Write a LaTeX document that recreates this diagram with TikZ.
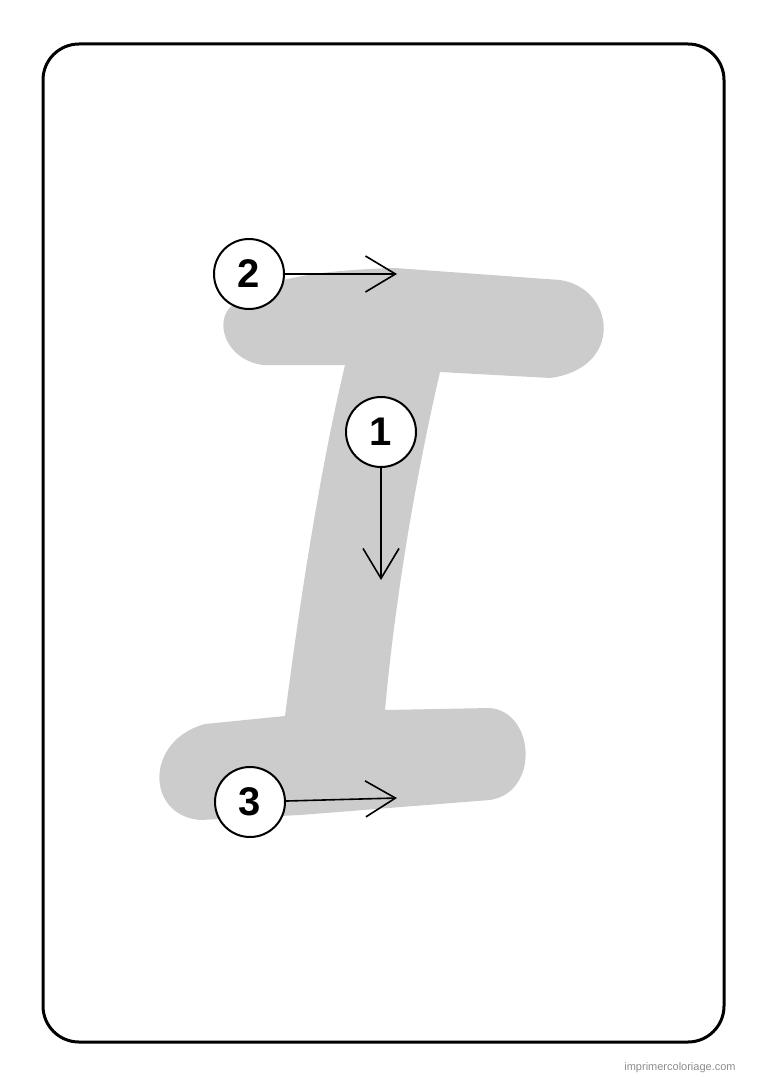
\documentclass[tikz,border=0pt]{standalone}
\usepackage{fontspec}
\setmainfont{Liberation Sans}
\usetikzlibrary{arrows.meta}
\begin{document}
\begin{tikzpicture}[x=1pt,y=-1pt,
  num/.style={circle,draw,line width=2,minimum size=70pt,inner sep=0pt,fill=white,font=\fontsize{40}{40}\selectfont\bfseries},
  arr/.style={line width=1.6,-{Straight Barb[length=30pt,width=36pt,line width=1.6]}}]
\useasboundingbox (0,0) rectangle (768,1086);
\draw[line width=3,rounded corners=36pt] (43,44) rectangle (724,1042);
\fill[black!20] (232,306) .. controls (260,276) and (330,270) .. (395,268)
  -- (560,280) .. controls (615,288) and (625,368) .. (550,378)
  -- (440,372) .. controls (415,480) and (395,600) .. (385,710)
  -- (490,708) .. controls (535,712) and (540,792) .. (490,800)
  -- (300,815) -- (200,820) .. controls (145,815) and (145,740) .. (205,724)
  -- (285,716) .. controls (300,600) and (320,470) .. (345,365) -- (262,365)
  .. controls (222,358) and (215,318) .. (232,306) -- cycle;
\node[num] (n2) at (249,274) {2};
\node[num] (n1) at (381,432) {1};
\node[num] (n3) at (250,802) {3};
\coordinate (e2) at (397,274);
\coordinate (e1) at (381,580);
\coordinate (e3) at (397,798);
\draw[arr] (n2) -- (e2);
\draw[arr] (n1) -- (e1);
\draw[arr] (n3) -- (e3);
\node[text=black!45,font=\fontsize{11}{11}\selectfont] (wm) at (680,1068) {imprimercoloriage.com};
\end{tikzpicture}
\end{document}
